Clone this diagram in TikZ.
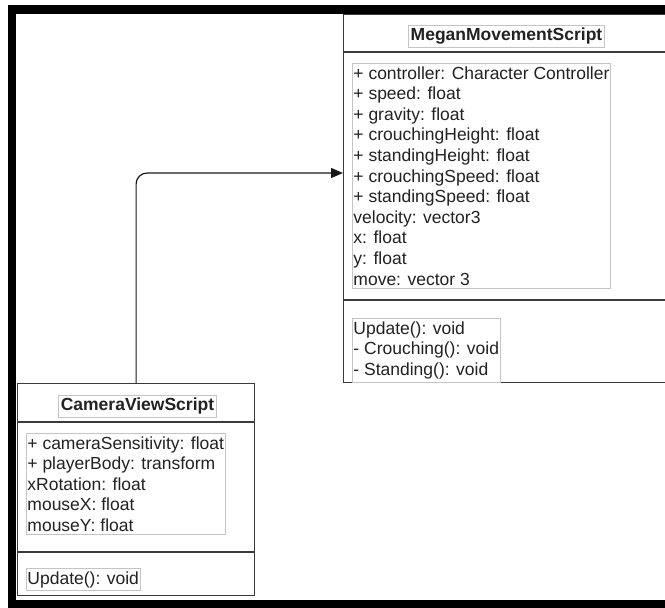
\documentclass[tikz,border=0pt]{standalone}
\usepackage{fontspec}
\newfontfamily\umlfont{Liberation Sans}
\usepackage{tikz}
\usetikzlibrary{arrows.meta}
\definecolor{edgegray}{HTML}{3A3A3A}
\definecolor{boxgray}{HTML}{C4C4C4}
\definecolor{textgray}{HTML}{222222}

\begin{document}
\begin{tikzpicture}[
    x=1pt,y=-1pt,
    classbox/.style={draw=edgegray,line width=1.2pt,fill=white,inner sep=0pt,anchor=north west},
    namebox/.style={draw=boxgray,line width=0.9pt,inner xsep=2.5pt,inner ysep=0pt,minimum height=22pt,text=textgray,font=\umlfont\bfseries\fontsize{17.5}{20.6}\selectfont},
    listbox/.style={draw=boxgray,line width=0.9pt,inner xsep=1pt,inner ysep=3pt,anchor=north west,align=left,text=textgray,font=\umlfont\fontsize{17.5}{20.6}\selectfont},
    link/.style={draw=black!90,line width=1.2pt,rounded corners=11pt,-{Triangle[length=12pt,width=10pt]}}
    ]
    \useasboundingbox (0,0) rectangle (665,608);
    \clip (0,0) rectangle (665,608);
    \node[classbox, minimum width=340pt, minimum height=368pt] (megan) at (343,14) {};
    \node[classbox, minimum width=237pt, minimum height=212pt] (camera) at (17,383) {};
    \draw[edgegray, line width=1.2pt] (343,52) -- (665,52);
    \draw[edgegray, line width=1.2pt] (343,300) -- (665,300);
    \draw[edgegray, line width=1.2pt] (17,422) -- (254,422);
    \draw[edgegray, line width=1.2pt] (17,552) -- (254,552);
    \node[namebox] (meganname) at (506.5,36) {MeganMovementScript};
    \node[namebox] (cameraname) at (137.5,406) {CameraViewScript};
    \node[listbox] (meganattrs) at (352,63) {+ controller: Character Controller\\
        + speed: float\\
        + gravity: float\\
        + crouchingHeight: float\\
        + standingHeight: float\\
        + crouchingSpeed: float\\
        + standingSpeed: float\\
        velocity: vector3\\
        x: float\\
        y: float\\
        move: vector 3};
    \node[listbox] (meganops) at (352,318) {Update(): void\\
        - Crouching(): void\\
        - Standing(): void};
    \node[listbox] (cameraattrs) at (26,433) {+ cameraSensitivity: float\\
        + playerBody: transform\\
        xRotation: float\\
        mouseX: float\\
        mouseY: float};
    \node[listbox] (cameraops) at (26,568) {Update(): void};
    \coordinate (hit) at (343,173);
    \draw[link] (camera.north) |- (hit);
    \fill[black] (8,5) rectangle (665,14);
    \fill[black] (8,5) rectangle (16,608);
    \fill[black] (8,600) rectangle (665,608);
\end{tikzpicture}
\end{document}
